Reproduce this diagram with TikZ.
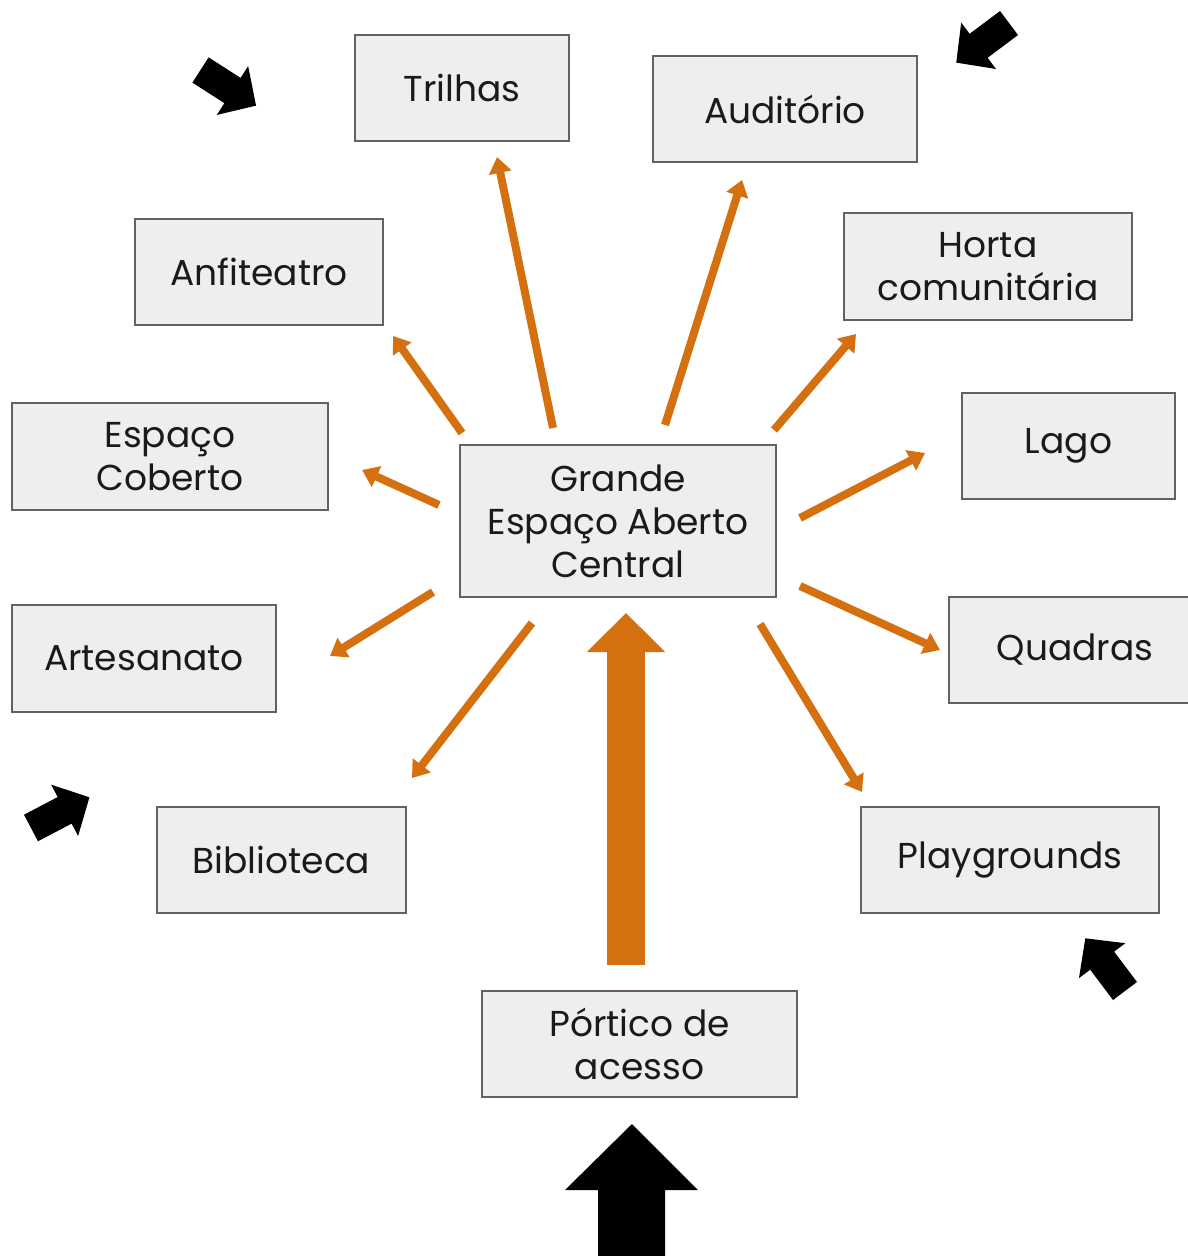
\documentclass[tikz,border=0pt]{standalone}
\usepackage{fontspec}
\setmainfont{Poppins}
\usetikzlibrary{arrows.meta}
\definecolor{boxfill}{HTML}{EEEEEE}
\definecolor{boxline}{HTML}{626262}
\definecolor{orng}{HTML}{D4700F}
\definecolor{txt}{HTML}{1A1A1A}
\tikzset{
  box/.style={draw=boxline, fill=boxfill, line width=1.1pt, inner sep=0pt,
    align=center, text=txt, font=\fontsize{18}{21.5}\selectfont},
  ray/.style={draw=orng, line width=4pt, -{Triangle[width=11pt,length=8pt]}},
  bigray/.style={draw=orng, line width=19pt, -{Triangle[width=38pt,length=19.5pt]}},
  blockarrow/.pic={\fill[black] (0,-15) -- (38,-15) -- (38,-29) -- (66,0) -- (38,29) -- (38,15) -- (0,15) -- cycle;}
}
\begin{document}
\begin{tikzpicture}[x=0.5pt,y=-0.5pt]
\path[use as bounding box] (0,0) rectangle (1187,1256);

% nodes
\node[box, minimum width=107pt, minimum height=53pt] (trilhas) at (462,88) {Trilhas};
\node[box, minimum width=132pt, minimum height=53pt] (auditorio) at (785,109) {Auditório};
\node[box, minimum width=124pt, minimum height=53pt] (anfiteatro) at (259,272) {Anfiteatro};
\node[box, minimum width=144pt, minimum height=53.5pt] (horta) at (988,266.5) {Horta\\comunitária};
\node[box, minimum width=158pt, minimum height=53.5pt] (coberto) at (170,456.5) {Espaço\\Coberto};
\node[box, minimum width=106.5pt, minimum height=53pt] (lago) at (1068.5,446) {Lago};
\node[box, minimum width=158pt, minimum height=76pt] (central) at (618,521) {Grande\\Espaço Aberto\\Central};
\node[box, minimum width=132pt, minimum height=53.5pt] (artesanato) at (144,658.5) {Artesanato};
\node[box, minimum width=126pt, minimum height=53pt] (quadras) at (1075,650) {Quadras};
\node[box, minimum width=124.5pt, minimum height=53pt] (biblioteca) at (281.5,860) {Biblioteca};
\node[box, minimum width=149pt, minimum height=53pt] (playgrounds) at (1010,860) {Playgrounds};
\node[box, minimum width=157.5pt, minimum height=53pt] (portico) at (639.5,1044) {Pórtico de\\acesso};

% arrow end coordinates
\coordinate (s1) at (553,428); \coordinate (e1) at (497,157);
\coordinate (s2) at (665,425); \coordinate (e2) at (742,180);
\coordinate (s3) at (462,433); \coordinate (e3) at (393,336);
\coordinate (s4) at (774,430); \coordinate (e4) at (856,334);
\coordinate (s5) at (439,505); \coordinate (e5) at (362,470);
\coordinate (s6) at (800,518); \coordinate (e6) at (925,453);
\coordinate (s7) at (433,592); \coordinate (e7) at (330,656);
\coordinate (s8) at (800,586); \coordinate (e8) at (940,650);
\coordinate (s9) at (532,623); \coordinate (e9) at (412,778);
\coordinate (s10) at (760,624); \coordinate (e10) at (862,792);
\coordinate (pb) at (626,965); \coordinate (pt) at (626,613);

\draw[ray] (s1) -- (e1);
\draw[ray] (s2) -- (e2);
\draw[ray] (s3) -- (e3);
\draw[ray] (s4) -- (e4);
\draw[ray] (s5) -- (e5);
\draw[ray] (s6) -- (e6);
\draw[ray] (s7) -- (e7);
\draw[ray] (s8) -- (e8);
\draw[ray] (s9) -- (e9);
\draw[ray] (s10) -- (e10);
\draw[bigray] (pb) -- (pt);

% black arrows
\pic[rotate=-32.7] at (200.5,70) {blockarrow};
\pic[rotate=-143.1] at (1009,23) {blockarrow};
\pic[rotate=27.7] at (31,828) {blockarrow};
\pic[rotate=127] at (1125,991) {blockarrow};
\fill[black] (598,1270) -- (598,1190) -- (565,1190) -- (632,1124) -- (698,1190) -- (665,1190) -- (665,1270) -- cycle;
\end{tikzpicture}
\end{document}
